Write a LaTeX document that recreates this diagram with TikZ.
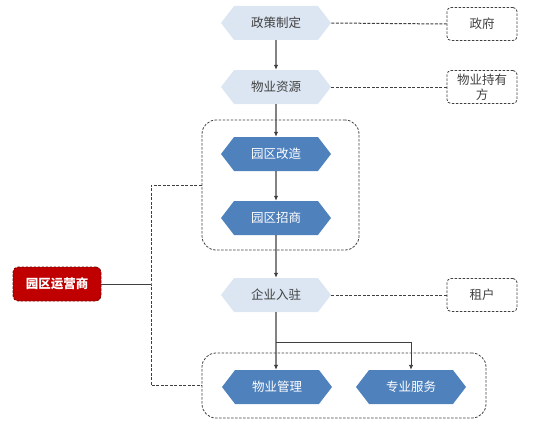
\documentclass[tikz,border=0pt]{standalone}
\usepackage{fontspec}
\setmainfont{Noto Sans CJK SC}
\usetikzlibrary{shapes.symbols,arrows.meta}
\definecolor{hexpale}{HTML}{DCE6F2}
\definecolor{hexblue}{HTML}{4F81BD}
\definecolor{opred}{HTML}{C00000}
\definecolor{linegray}{HTML}{404040}
\definecolor{textgray}{HTML}{404040}
\tikzset{
	hexpalenode/.style={signal, signal to=east and west, signal pointer angle=105, fill=hexpale,
		minimum width=110pt, minimum height=34pt, inner sep=0pt, text=textgray,
		font=\fontsize{12.5}{15}\selectfont},
	hexbluenode/.style={hexpalenode, fill=hexblue, text=white},
	rolebox/.style={draw=linegray, dash pattern=on 2.5pt off 1.5pt, line width=0.8pt, rounded corners=4pt,
		minimum width=70pt, minimum height=33pt, inner sep=1pt, align=center, text=textgray,
		font=\fontsize{12.5}{15}\selectfont},
	groupbox/.style={draw=linegray, dash pattern=on 2.5pt off 1.5pt, line width=0.8pt, rounded corners=14pt},
	opbox/.style={draw=red!45!black, dash pattern=on 2.5pt off 1.5pt, line width=0.8pt, fill=opred,
		rounded corners=5pt, minimum width=88pt, minimum height=34pt, text=white,
		font=\fontsize{12.5}{15}\selectfont\bfseries},
	flow/.style={draw=linegray, line width=1.2pt, -{Latex[length=5pt,width=4.5pt]}},
	link/.style={draw=linegray, dash pattern=on 3pt off 1.5pt, line width=1pt},
}
\begin{document}
\begin{tikzpicture}[x=1pt,y=-1pt]
			\useasboundingbox (0,0) rectangle (553,428);
			% groups
			\node[groupbox, minimum width=157pt, minimum height=130pt] (grpA) at (280.5,185) {};
			\node[groupbox, minimum width=284pt, minimum height=65pt] (grpB) at (344,385.5) {};
			% steps
			\node[hexpalenode] (policy) at (276,23) {政策制定};
			\node[hexpalenode] (property) at (276,87) {物业资源};
			\node[hexbluenode] (rebuild) at (276,154) {园区改造};
			\node[hexbluenode] (invest) at (276,218) {园区招商};
			\node[hexpalenode] (enter) at (276,295) {企业入驻};
			\node[hexbluenode] (mgmt) at (277,387) {物业管理};
			\node[hexbluenode] (serv) at (411,387) {专业服务};
			% roles
			\node[rolebox] (gov) at (482,24) {政府};
			\node[rolebox] (owner) at (482,87) {物业持有\\方};
			\node[rolebox] (tenant) at (482,295) {租户};
			\node[opbox] (op) at (57,284) {园区运营商};
			\coordinate (hub) at (151,284);
			\coordinate (split) at (276,342);
			% flow
			\draw[flow] (policy) -- (property);
			\draw[flow] (property) -- (rebuild);
			\draw[flow] (rebuild) -- (invest);
			\draw[flow] (invest) -- (enter);
			\draw[flow] (enter) -- (mgmt.north -| enter);
			\draw[flow, line width=0.9pt] (split) -| (serv.north);
			% links
			\draw[link] (policy.east) -- (gov.west);
			\draw[link] (property.east) -- (owner.west);
			\draw[link] (enter.east) -- (tenant.west);
			\draw[draw=linegray, line width=1pt] (op.east) -- (hub);
			\draw[link] (grpA.west) -| (hub) |- (grpB.west);
		\end{tikzpicture}
\end{document}
